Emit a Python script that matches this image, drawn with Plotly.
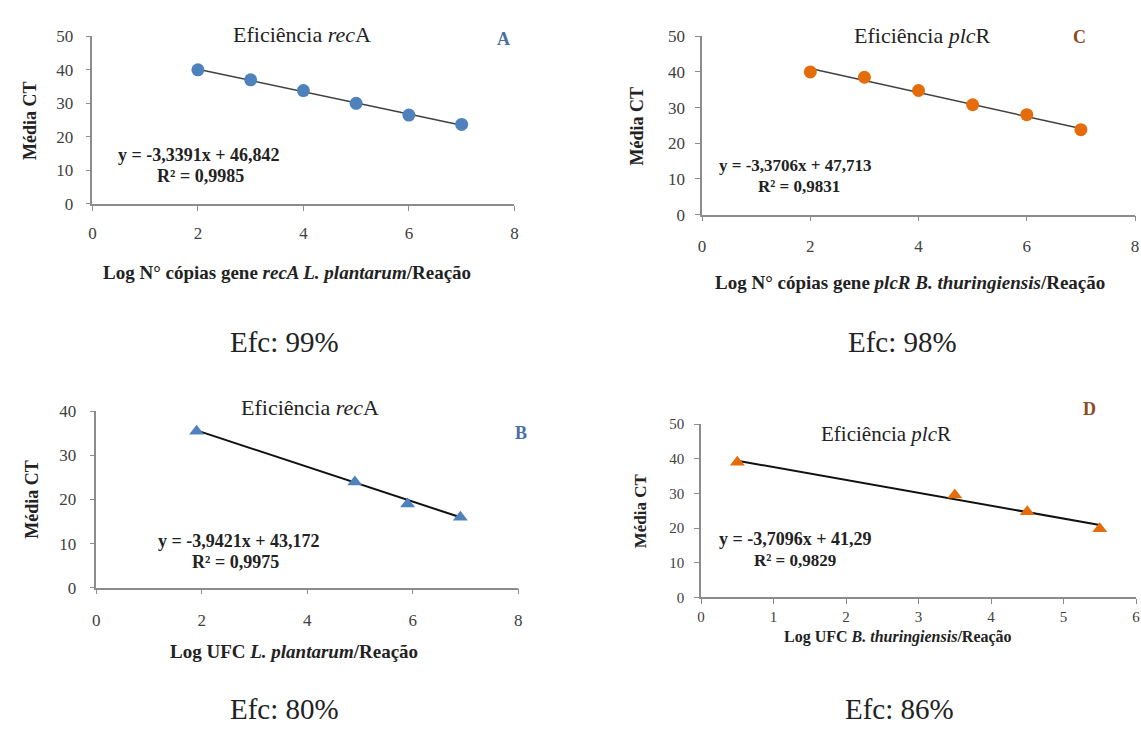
import plotly.graph_objects as go

W, H = 1141, 737

# ---------------- data ----------------
a_x = [2, 3, 4, 5, 6, 7]
a_y = [40.0, 37.0, 33.8, 30.0, 26.5, 23.7]
a_slope, a_icpt = -3.3391, 46.842

c_x = [2, 3, 4, 5, 6, 7]
c_y = [40.0, 38.5, 34.8, 30.8, 28.0, 23.8]
c_slope, c_icpt = -3.3706, 47.713

b_x = [1.9, 4.9, 5.9, 6.9]
b_y = [35.5, 24.0, 19.0, 16.0]
b_slope, b_icpt = -3.9421, 43.172

d_x = [0.5, 3.5, 4.5, 5.5]
d_y = [39.0, 29.5, 24.7, 19.8]
d_slope, d_icpt = -3.7096, 41.29

eq_a = ["y = -3,3391x + 46,842", "R² = 0,9985"]
eq_c = ["y = -3,3706x + 47,713", "R² = 0,9831"]
eq_b = ["y = -3,9421x + 43,172", "R² = 0,9975"]
eq_d = ["y = -3,7096x + 41,29", "R² = 0,9829"]
efc = ["Efc: 99%", "Efc: 98%", "Efc: 80%", "Efc: 86%"]

BLUE = "#4F81BD"
ORANGE = "#E46C0A"
SERIF = "Liberation Serif, Times New Roman, serif"


def px(x):
    return x / W


def py(y):
    return 1 - y / H


fig = go.Figure()

panels = [
    # name, xdata, ydata, slope, icpt, marker, color, x-domain px, y-domain px, xrange, yrange,
    # dtick x, dtick y, line color, line width, marker size, x standoff, y standoff, tick font size
    ("1", a_x, a_y, a_slope, a_icpt, "circle", BLUE, (89, 514), (28, 200), [0, 8], [0, 50], 2, 10, "#404040", 1.5, 13, 8, 9, 17),
    ("2", c_x, c_y, c_slope, c_icpt, "circle", ORANGE, (703, 1139), (28, 211), [0, 8], [0, 50], 2, 10, "#404040", 1.5, 13, 10, 7, 17),
    ("3", b_x, b_y, b_slope, b_icpt, "triangle-up", BLUE, (93, 518), (413, 594), [0, 8], [0, 40], 2, 10, "#111111", 2, 13, 11, 10, 17),
    ("4", d_x, d_y, d_slope, d_icpt, "triangle-up", ORANGE, (702, 1140), (426, 604), [0, 6], [0, 50], 1, 10, "#111111", 2, 13, 0, 7, 15),
]

layout_axes = {}
for (name, xs, ys, sl, ic, sym, col, xd, yd, xr, yr, dtx, dty, lc, lw, ms, xso, yso, tfs) in panels:
    xa = "x" if name == "1" else "x" + name
    ya = "y" if name == "1" else "y" + name
    tx = [xs[0], xs[-1]]
    ty = [sl * v + ic for v in tx]
    fig.add_trace(go.Scatter(x=tx, y=ty, mode="lines", line=dict(color=lc, width=lw),
                             xaxis=xa, yaxis=ya, showlegend=False, hoverinfo="skip"))
    fig.add_trace(go.Scatter(x=xs, y=ys, mode="markers",
                             marker=dict(symbol=sym, size=ms, color=col, line=dict(width=0)),
                             xaxis=xa, yaxis=ya, showlegend=False, cliponaxis=False))
    common = dict(showgrid=False, zeroline=False, showline=True, linecolor="#8C8C8C", linewidth=1.5,
                  ticks="outside", ticklen=5, tickcolor="#8C8C8C", tickwidth=1.2,
                  tickfont=dict(family=SERIF, size=tfs, color="#404040"), fixedrange=True,
                  ticklabeloverflow="allow")
    layout_axes["xaxis" + ("" if name == "1" else name)] = dict(
        domain=[px(xd[0]), px(xd[1])], range=xr, dtick=dtx, tick0=0,
        anchor=ya, ticklabelstandoff=xso, **common)
    layout_axes["yaxis" + ("" if name == "1" else name)] = dict(
        domain=[py(yd[1]), py(yd[0])], range=yr, dtick=dty, tick0=0,
        anchor=xa, ticklabelstandoff=yso, **common)

fig.update_layout(**layout_axes)

ann = []


def text(x, y, t, size, color="#222222", angle=0, xanchor="center"):
    ann.append(dict(x=px(x), y=py(y), xref="paper", yref="paper", text=t, showarrow=False,
                    font=dict(family=SERIF, size=size, color=color), textangle=angle,
                    xanchor=xanchor, yanchor="middle"))


# panel titles
text(300, 26, "Eficiência <i>rec</i>A", 22)
text(925, 27, "Eficiência <i>plc</i>R", 22)
text(308, 409, "Eficiência <i>rec</i>A", 22)
text(888, 436, "Eficiência <i>plc</i>R", 21)

# panel letters
text(503, 31, "<b>A</b>", 18, "#4A6FA5")
text(1083, 29, "<b>C</b>", 18, "#8E4A22")
text(521, 435, "<b>B</b>", 18, "#4A6FA5")
text(1093, 411, "<b>D</b>", 18, "#8E4A22")

# y titles
text(26, 114, "<b>Média CT</b>", 18, "#222222", -90)
text(637, 120, "<b>Média CT</b>", 18, "#222222", -90)
text(28, 503, "<b>Média CT</b>", 18, "#222222", -90)
text(641, 515, "<b>Média CT</b>", 17, "#222222", -90)

# x titles
text(285, 270, "<b>Log N° cópias gene <i>recA L. plantarum</i>/Reação</b>", 19)
text(912, 281, "<b>Log N° cópias gene <i>plcR B. thuringiensis</i>/Reação</b>", 19)
text(292, 660, "<b>Log UFC <i>L. plantarum</i>/Reação</b>", 19)
text(900, 645, "<b>Log UFC <i>B. thuringiensis</i>/Reação</b>", 16)

# equations
text(196, 150, "<b>" + eq_a[0] + "</b>", 18)
text(198, 171, "<b>" + eq_a[1] + "</b>", 18)
text(797, 161, "<b>" + eq_c[0] + "</b>", 17)
text(801, 182, "<b>" + eq_c[1] + "</b>", 17)
text(237, 546, "<b>" + eq_b[0] + "</b>", 18)
text(233, 568, "<b>" + eq_b[1] + "</b>", 18)
text(797, 544, "<b>" + eq_d[0] + "</b>", 18)
text(797, 566, "<b>" + eq_d[1] + "</b>", 17)

# efficiency labels
text(282, 342, efc[0], 29)
text(905, 342, efc[1], 29)
text(282, 719, efc[2], 29)
text(902, 719, efc[3], 29)

fig.update_layout(
    width=W, height=H, margin=dict(l=0, r=0, t=0, b=0),
    paper_bgcolor="white", plot_bgcolor="white",
    annotations=ann, showlegend=False,
)

fig.write_html(
    "out.html",
    config={"displayModeBar": False},
    post_script="document.body.style.margin='0';document.body.style.overflow='hidden';",
)
